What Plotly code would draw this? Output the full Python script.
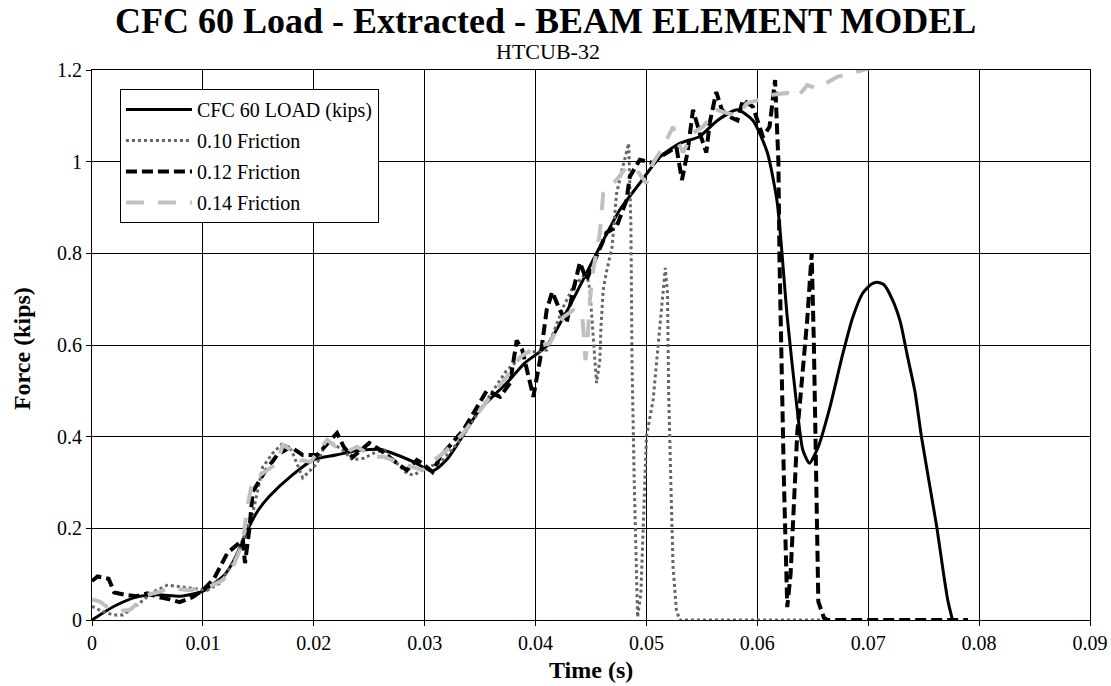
import plotly.graph_objects as go

# ---------------- data ----------------
cfc_t = [0, 0.002, 0.004, 0.006, 0.008, 0.010, 0.012, 0.013, 0.014, 0.015, 0.016, 0.018, 0.020,
         0.022, 0.024, 0.026, 0.027, 0.029, 0.0307, 0.032, 0.033, 0.035, 0.0374, 0.039, 0.041,
         0.0425, 0.0434, 0.0452, 0.0476, 0.0494, 0.0512, 0.053, 0.0548, 0.0564, 0.0582, 0.0596,
         0.0609, 0.0618, 0.0627, 0.0636, 0.0641, 0.0647, 0.0655, 0.0665, 0.0677, 0.0686, 0.0695,
         0.0703, 0.0708, 0.0714, 0.0722, 0.0729, 0.0735, 0.0742, 0.0748, 0.0755, 0.0762, 0.0768,
         0.0772, 0.0776]
cfc_y = [0, 0.03, 0.05, 0.055, 0.052, 0.063, 0.10, 0.14, 0.195, 0.24, 0.27, 0.315, 0.35,
         0.36, 0.37, 0.372, 0.365, 0.345, 0.325, 0.35, 0.385, 0.46, 0.517, 0.56, 0.598,
         0.66, 0.70, 0.786, 0.895, 0.953, 1.01, 1.04, 1.055, 1.09, 1.113, 1.09,
         1.02, 0.91, 0.66, 0.458, 0.371, 0.342, 0.378, 0.46, 0.58, 0.66, 0.713,
         0.733, 0.737, 0.732, 0.698, 0.65, 0.58, 0.50, 0.40, 0.30, 0.20, 0.10,
         0.04, 0.0]

f10_t = [0, 0.0008, 0.0019, 0.0028, 0.0043, 0.0055, 0.0068, 0.0079, 0.0088, 0.0104, 0.0115,
         0.0127, 0.0136, 0.0145, 0.0154, 0.0163, 0.0172, 0.018, 0.019, 0.0197, 0.0203, 0.0212,
         0.0226, 0.0235, 0.0245, 0.0255, 0.0263, 0.0284, 0.029, 0.030, 0.0315, 0.0332, 0.0356,
         0.0374, 0.0392, 0.041, 0.0416, 0.0425, 0.0434, 0.0446, 0.0449, 0.0452, 0.0455, 0.0458,
         0.0459, 0.0461, 0.0464, 0.0469, 0.0473, 0.0478, 0.0484, 0.0486, 0.0487, 0.0489, 0.0491,
         0.0492, 0.0495, 0.0497, 0.050, 0.0506, 0.051, 0.0514, 0.0517, 0.0519, 0.052, 0.0522,
         0.0524, 0.0527, 0.053, 0.066]
f10_y = [0.03, 0.02, 0.011, 0.011, 0.037, 0.061, 0.076, 0.072, 0.07, 0.065, 0.08,
         0.124, 0.175, 0.233, 0.334, 0.364, 0.386, 0.37, 0.31, 0.327, 0.342, 0.393,
         0.371, 0.349, 0.353, 0.365, 0.371, 0.32, 0.316, 0.33, 0.345, 0.393, 0.48,
         0.545, 0.583, 0.589, 0.626, 0.683, 0.727, 0.757, 0.72, 0.626, 0.517, 0.567,
         0.64, 0.72, 0.76, 0.814, 0.93, 0.982, 1.04, 0.86, 0.56, 0.3, 0.1,
         0.006, 0.06, 0.19, 0.4, 0.48, 0.589, 0.683, 0.768, 0.713, 0.5, 0.3,
         0.116, 0.022, 0.0, 0.0]

f12_t = [0, 0.0005, 0.0015, 0.002, 0.003, 0.004, 0.005, 0.006, 0.007, 0.0079, 0.0091, 0.010,
         0.011, 0.0122, 0.0136, 0.0138, 0.0142, 0.0145, 0.0155, 0.0167, 0.0179, 0.019, 0.0203,
         0.0221, 0.0227, 0.0235, 0.025, 0.026, 0.0275, 0.0284, 0.0293, 0.0298, 0.0307, 0.0314,
         0.0335, 0.0356, 0.0368, 0.0377, 0.0383, 0.0388, 0.0398, 0.0404, 0.041, 0.0415, 0.0422,
         0.0428, 0.0434, 0.044, 0.0446, 0.0464, 0.0473, 0.0482, 0.0485, 0.0494, 0.0506, 0.0512,
         0.0527, 0.0532, 0.0537, 0.0542, 0.0548, 0.0554, 0.0557, 0.0563, 0.0568, 0.0575, 0.0582,
         0.0587, 0.0596, 0.0605, 0.0611, 0.0616, 0.0619, 0.062, 0.0624, 0.0627, 0.063, 0.0636,
         0.0645, 0.0649, 0.0651, 0.0655, 0.066, 0.0663, 0.079]
f12_y = [0.085, 0.095, 0.09, 0.06, 0.055, 0.052, 0.058, 0.05, 0.045, 0.039, 0.05, 0.065,
         0.09, 0.146, 0.175, 0.124, 0.2, 0.28, 0.32, 0.36, 0.378, 0.36, 0.36,
         0.408, 0.378, 0.355, 0.386, 0.371, 0.342, 0.327, 0.349, 0.342, 0.323, 0.356,
         0.415, 0.5, 0.487, 0.517, 0.61, 0.589, 0.487, 0.567, 0.676, 0.716, 0.676,
         0.648, 0.72, 0.78, 0.742, 0.845, 0.858, 0.916, 0.967, 1.004, 0.997, 1.01,
         1.032, 0.96, 1.02, 1.113, 1.063, 1.02, 1.084, 1.152, 1.113, 1.098, 1.09,
         1.135, 1.12, 1.054, 1.076, 1.178, 1.0, 0.786, 0.3, 0.028, 0.1, 0.408,
         0.655, 0.80, 0.60, 0.04, 0.005, 0.0, 0.0]

f14_t = [0, 0.0007, 0.0014, 0.0025, 0.0034, 0.004, 0.005, 0.006, 0.007, 0.0088, 0.0097, 0.0108,
         0.0118, 0.0127, 0.0136, 0.014, 0.0145, 0.0158, 0.0167, 0.0172, 0.018, 0.0188, 0.0197,
         0.0212, 0.022, 0.023, 0.0239, 0.0253, 0.0263, 0.0275, 0.029, 0.0298, 0.032, 0.0335,
         0.0359, 0.0374, 0.0386, 0.0401, 0.0413, 0.0425, 0.0434, 0.0442, 0.0445, 0.0447, 0.0449,
         0.0452, 0.0458, 0.0461, 0.0473, 0.0482, 0.0491, 0.050, 0.0506, 0.0515, 0.0524, 0.0527,
         0.0533, 0.0542, 0.0551, 0.0563, 0.0573, 0.0582, 0.0591, 0.0602, 0.0614, 0.0627, 0.0636,
         0.0645, 0.0654, 0.0672, 0.0684, 0.0702, 0.072]
f14_y = [0.045, 0.04, 0.028, 0.02, 0.022, 0.035, 0.055, 0.061, 0.07, 0.065, 0.07, 0.075,
         0.087, 0.116, 0.168, 0.247, 0.305, 0.327, 0.342, 0.382, 0.37, 0.349, 0.345,
         0.393, 0.378, 0.367, 0.378, 0.356, 0.356, 0.345, 0.334, 0.327, 0.371, 0.408,
         0.487, 0.53, 0.574, 0.596, 0.604, 0.661, 0.676, 0.67, 0.567, 0.617, 0.698,
         0.764, 0.845, 0.93, 0.96, 0.988, 0.982, 0.953, 0.997, 1.032, 1.076, 1.05,
         1.02, 1.063, 1.076, 1.113, 1.106, 1.10, 1.128, 1.135, 1.146, 1.15, 1.14,
         1.167, 1.16, 1.185, 1.193, 1.204, 1.215]

x_ticks = [0, 0.01, 0.02, 0.03, 0.04, 0.05, 0.06, 0.07, 0.08, 0.09]
x_tick_labels = ["0", "0.01", "0.02", "0.03", "0.04", "0.05", "0.06", "0.07", "0.08", "0.09"]
y_ticks = [0, 0.2, 0.4, 0.6, 0.8, 1.0, 1.2]
y_tick_labels = ["0", "0.2", "0.4", "0.6", "0.8", "1", "1.2"]

FONT = "Liberation Serif, Times New Roman, serif"

fig = go.Figure()
fig.add_trace(go.Scatter(x=cfc_t, y=cfc_y, name="CFC 60 LOAD (kips)", mode="lines",
                         line=dict(color="black", width=3, shape="spline", smoothing=0.6),
                         legendgroup="a"))
fig.add_trace(go.Scatter(x=f10_t, y=f10_y, name="0.10 Friction", mode="lines",
                         line=dict(color="#666666", width=3, dash="3px,3px"),
                         legendgroup="b"))
fig.add_trace(go.Scatter(x=f12_t, y=f12_y, name="0.12 Friction", mode="lines",
                         line=dict(color="black", width=4, dash="11px,5px"),
                         legendgroup="c"))
fig.add_trace(go.Scatter(x=f14_t, y=f14_y, name="0.14 Friction", mode="lines",
                         line=dict(color="#c0c0c0", width=4, dash="18px,14px"),
                         legendgroup="d"))

PH = 550.0  # plot-area height in px
fig.update_layout(
    width=1111, height=686,
    margin=dict(l=92, r=21, t=70, b=66, autoexpand=False),
    paper_bgcolor="white", plot_bgcolor="white",
    font=dict(family=FONT, size=20, color="black"),
    showlegend=True,
    hovermode=False,
    legend=dict(x=0.028, y=0.9655, xanchor="left", yanchor="top",
                bgcolor="white", bordercolor="black", borderwidth=1,
                font=dict(family=FONT, size=20, color="black"),
                tracegroupgap=2, traceorder="grouped", itemwidth=66),
    annotations=[
        dict(text="<b>CFC 60 Load - Extracted - BEAM ELEMENT MODEL</b>", xref="paper", yref="paper",
             x=0.4545, y=1 + (70 - 21) / PH, xanchor="center", yanchor="middle", showarrow=False,
             font=dict(family=FONT, size=36, color="black")),
        dict(text="HTCUB-32", xref="paper", yref="paper",
             x=0.457, y=1 + (70 - 51.5) / PH, xanchor="center", yanchor="middle", showarrow=False,
             font=dict(family=FONT, size=22, color="black")),
        dict(text="<b>Time (s)</b>", xref="paper", yref="paper",
             x=0.5, y=-(670 - 620) / PH, xanchor="center", yanchor="middle", showarrow=False,
             font=dict(family=FONT, size=24, color="black")),
        dict(text="<b>Force (kips)</b>", xref="paper", yref="paper", textangle=-90,
             x=-0.0701, y=0.4927, xanchor="center", yanchor="middle", showarrow=False,
             font=dict(family=FONT, size=24, color="black")),
    ],
)
fig.update_xaxes(range=[0, 0.09], tickvals=x_ticks, ticktext=x_tick_labels, automargin=False,
                 showgrid=True, gridcolor="black", gridwidth=1,
                 showline=True, linecolor="black", linewidth=1, mirror=True,
                 ticks="outside", ticklen=5, tickcolor="black", zeroline=False,
                 tickfont=dict(family=FONT, size=20))
fig.update_yaxes(range=[0, 1.2], tickvals=y_ticks, ticktext=y_tick_labels, automargin=False,
                 showgrid=True, gridcolor="black", gridwidth=1,
                 showline=True, linecolor="black", linewidth=1, mirror=True,
                 ticks="outside", ticklen=5, tickcolor="black", zeroline=False,
                 tickfont=dict(family=FONT, size=20))

fig.write_html("out.html",
               config={"displayModeBar": False, "staticPlot": True},
               post_script="document.body.style.margin='0';document.body.style.padding='0';")
